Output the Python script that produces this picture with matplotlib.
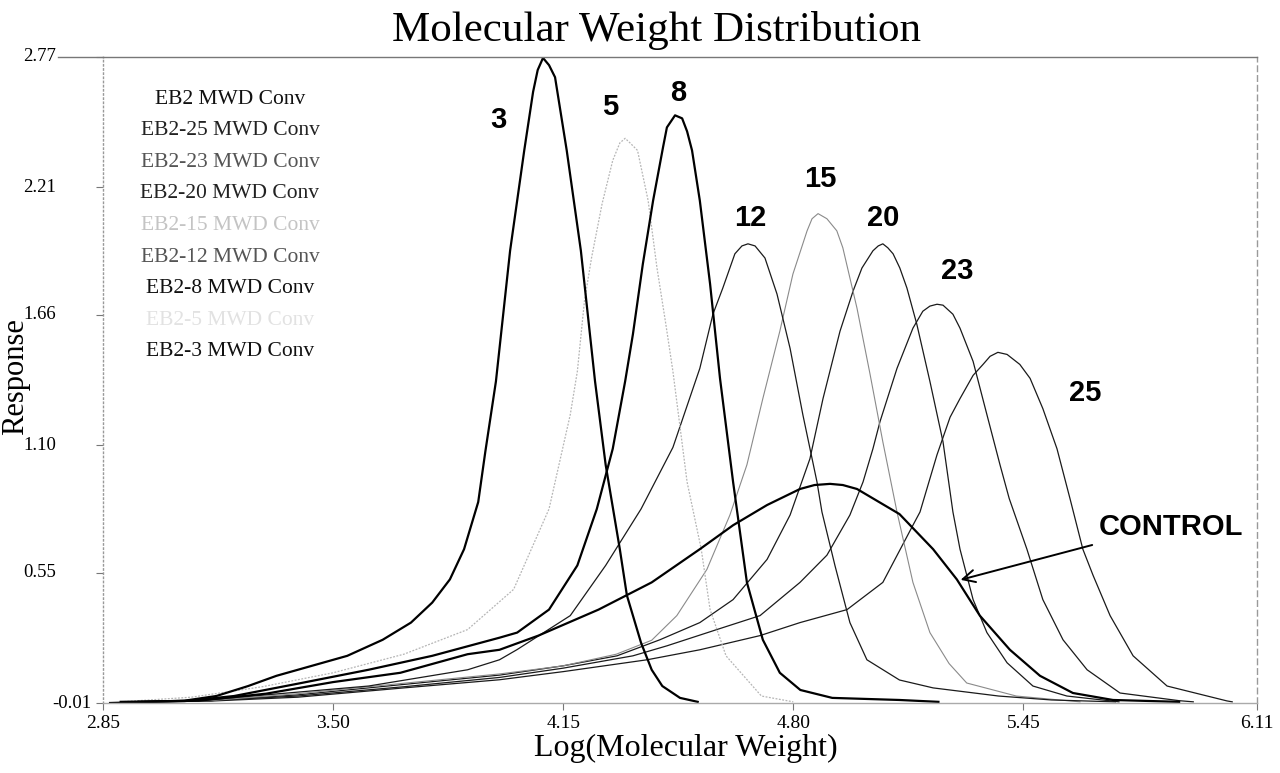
import matplotlib
matplotlib.use('Agg')
import matplotlib.pyplot as plt
from matplotlib.lines import Line2D

# series: log(MW) vs response
c3_x = [2.87, 2.98, 3.08, 3.17, 3.26, 3.34, 3.44, 3.54, 3.64, 3.72, 3.78, 3.83, 3.87, 3.91, 3.93, 3.96,
        4.00, 4.04, 4.065, 4.078, 4.093, 4.11, 4.127, 4.16, 4.20, 4.24, 4.27, 4.31, 4.33, 4.37, 4.40, 4.43, 4.48, 4.53]
c3_y = [-0.01, -0.005, 0.0, 0.02, 0.063, 0.107, 0.15, 0.193, 0.262, 0.336, 0.422, 0.522, 0.652, 0.855, 1.071, 1.374,
        1.936, 2.368, 2.62, 2.714, 2.766, 2.735, 2.683, 2.368, 1.936, 1.374, 1.015, 0.652, 0.453, 0.249, 0.133, 0.063,
        0.012, -0.005]

c5_x = [2.90, 3.10, 3.30, 3.50, 3.70, 3.88, 4.01, 4.11, 4.17, 4.19, 4.21, 4.23, 4.26, 4.29, 4.31, 4.325, 4.339,
        4.36, 4.39, 4.415, 4.44, 4.46, 4.50, 4.54, 4.565, 4.61, 4.71, 4.80]
c5_y = [-0.005, 0.015, 0.06, 0.12, 0.20, 0.306, 0.479, 0.825, 1.231, 1.417, 1.719, 1.905, 2.139, 2.325, 2.40, 2.42,
        2.40, 2.368, 2.152, 1.862, 1.62, 1.417, 0.941, 0.652, 0.392, 0.193, 0.02, -0.005]

c8_x = [2.95, 3.08, 3.22, 3.41, 3.60, 3.78, 3.97, 4.02, 4.11, 4.19, 4.245, 4.29, 4.325, 4.347, 4.375, 4.404,
        4.432, 4.443, 4.466, 4.486, 4.50, 4.514, 4.536, 4.565, 4.593, 4.63, 4.669, 4.714, 4.762, 4.82, 4.91, 5.10, 5.21]
c8_y = [-0.005, -0.002, 0.02, 0.076, 0.133, 0.193, 0.271, 0.293, 0.392, 0.582, 0.825, 1.084, 1.374, 1.577, 1.879, 2.152,
        2.381, 2.467, 2.519, 2.506, 2.45, 2.368, 2.152, 1.793, 1.387, 0.941, 0.509, 0.262, 0.12, 0.046, 0.012, 0.003,
        -0.005]

c12_x = [2.95, 3.12, 3.31, 3.60, 3.88, 3.97, 4.02, 4.17, 4.27, 4.37, 4.46, 4.536, 4.573, 4.601, 4.635, 4.655,
         4.672, 4.692, 4.72, 4.754, 4.791, 4.827, 4.867, 4.881, 4.918, 4.96, 5.008, 5.10, 5.195, 5.38, 5.53, 5.71]
c12_y = [-0.005, 0.0, 0.025, 0.063, 0.133, 0.176, 0.22, 0.366, 0.582, 0.825, 1.09, 1.43, 1.663, 1.776, 1.923, 1.957,
         1.966, 1.957, 1.905, 1.75, 1.516, 1.231, 0.941, 0.812, 0.58, 0.336, 0.176, 0.089, 0.055, 0.02, 0.003, -0.005]

c15_x = [2.92, 3.15, 3.40, 3.70, 3.97, 4.15, 4.30, 4.40, 4.471, 4.556, 4.621, 4.669, 4.714, 4.762, 4.799,
         4.839, 4.853, 4.87, 4.895, 4.923, 4.94, 4.98, 5.017, 5.053, 5.093, 5.138, 5.186, 5.24, 5.29, 5.43, 5.61]
c15_y = [-0.005, 0.0, 0.03, 0.075, 0.115, 0.15, 0.2, 0.26, 0.366, 0.565, 0.799, 1.015, 1.3, 1.59, 1.836,
         2.022, 2.074, 2.096, 2.074, 2.022, 1.949, 1.689, 1.404, 1.114, 0.812, 0.509, 0.293, 0.16, 0.076, 0.02, -0.005]

c20_x = [2.92, 3.15, 3.40, 3.70, 3.97, 4.15, 4.302, 4.423, 4.536, 4.63, 4.726, 4.791, 4.847, 4.884, 4.932, 4.969,
         4.994, 5.025, 5.04, 5.053, 5.067, 5.082, 5.101, 5.121, 5.149, 5.186, 5.223, 5.251, 5.271, 5.308, 5.347,
         5.404, 5.477, 5.573, 5.72]
c20_y = [-0.005, 0.0, 0.025, 0.07, 0.11, 0.15, 0.193, 0.262, 0.336, 0.435, 0.608, 0.799, 1.041, 1.3, 1.59, 1.763,
         1.862, 1.936, 1.957, 1.966, 1.949, 1.923, 1.862, 1.776, 1.62, 1.374, 1.114, 0.812, 0.652, 0.435, 0.293,
         0.163, 0.063, 0.02, -0.005]

c23_x = [2.92, 3.15, 3.40, 3.70, 3.97, 4.15, 4.347, 4.443, 4.584, 4.706, 4.819, 4.895, 4.96, 4.997, 5.025, 5.045,
         5.093, 5.138, 5.166, 5.186, 5.206, 5.223, 5.251, 5.271, 5.308, 5.347, 5.384, 5.41, 5.46, 5.505, 5.562, 5.63,
         5.723, 5.89, 5.93]
c23_y = [-0.005, 0.0, 0.02, 0.06, 0.10, 0.14, 0.193, 0.236, 0.306, 0.366, 0.509, 0.626, 0.799, 0.941, 1.084, 1.201,
         1.43, 1.603, 1.676, 1.698, 1.706, 1.702, 1.663, 1.603, 1.46, 1.231, 1.015, 0.87, 0.652, 0.435, 0.262, 0.133,
         0.033, 0.0, -0.005]

c25_x = [2.92, 3.15, 3.40, 3.70, 3.97, 4.15, 4.387, 4.536, 4.706, 4.819, 4.952, 5.053, 5.138, 5.158, 5.206, 5.243,
         5.271, 5.308, 5.336, 5.356, 5.378, 5.404, 5.44, 5.469, 5.505, 5.545, 5.582, 5.618, 5.647, 5.695, 5.76, 5.856,
         6.025, 6.04]
c25_y = [-0.005, -0.002, 0.015, 0.055, 0.09, 0.125, 0.176, 0.219, 0.28, 0.336, 0.392, 0.509, 0.755, 0.812, 1.058, 1.22,
         1.30, 1.40, 1.447, 1.482, 1.499, 1.49, 1.447, 1.387, 1.257, 1.084, 0.868, 0.652, 0.539, 0.366, 0.193, 0.063,
         -0.001, -0.005]

ctrl_x = [2.90, 3.12, 3.31, 3.50, 3.69, 3.88, 3.97, 4.08, 4.25, 4.40, 4.536, 4.63, 4.726, 4.819, 4.86, 4.904, 4.94,
          4.98, 5.10, 5.195, 5.262, 5.327, 5.412, 5.497, 5.59, 5.703, 5.89]
ctrl_y = [-0.005, 0.0, 0.03, 0.08, 0.12, 0.20, 0.219, 0.28, 0.392, 0.509, 0.652, 0.755, 0.842, 0.911, 0.928, 0.933,
          0.928, 0.911, 0.803, 0.652, 0.522, 0.366, 0.219, 0.107, 0.033, 0.003, -0.005]

x_ticks = [2.85, 3.50, 4.15, 4.80, 5.45, 6.11]
y_ticks = [-0.01, 0.55, 1.10, 1.66, 2.21, 2.77]

legend_labels = ['EB2 MWD Conv', 'EB2-25 MWD Conv', 'EB2-23 MWD Conv', 'EB2-20 MWD Conv', 'EB2-15 MWD Conv',
                 'EB2-12 MWD Conv', 'EB2-8 MWD Conv', 'EB2-5 MWD Conv', 'EB2-3 MWD Conv']
legend_colors = ['#111111', '#222222', '#555555', '#222222', '#c4c4c4', '#555555', '#111111', '#e2e2e2', '#111111']

peak_labels = ['3', '5', '8', '12', '15', '20', '23', '25']
peak_lx = [3.966, 4.282, 4.474, 4.678, 4.875, 5.053, 5.262, 5.624]
peak_ly = [2.498, 2.554, 2.614, 2.078, 2.243, 2.078, 1.849, 1.322]

serif = ['Liberation Serif', 'DejaVu Serif']
sans = ['Liberation Sans', 'DejaVu Sans']

fig = plt.figure(figsize=(12.8, 7.73), dpi=100)
ax = fig.add_axes([103/1280, 1 - 703/773, 1154/1280, 646/773])

ax.plot(c25_x, c25_y, color='#1a1a1a', lw=0.9)
ax.plot(c23_x, c23_y, color='#1a1a1a', lw=0.9)
ax.plot(c20_x, c20_y, color='#1a1a1a', lw=0.9)
ax.plot(c15_x, c15_y, color='#8a8a8a', lw=0.8)
ax.plot(c12_x, c12_y, color='#1a1a1a', lw=0.9)
ax.plot(c5_x, c5_y, color='#b5b5b5', lw=0.9, ls=(0, (1.5, 1.2)))
ax.plot(c8_x, c8_y, color='black', lw=1.6)
ax.plot(c3_x, c3_y, color='black', lw=1.6)
ax.plot(ctrl_x, ctrl_y, color='black', lw=1.6)

ax.set_xlim(2.85, 6.11)
ax.set_ylim(-0.01, 2.77)

ax.set_xticks(x_ticks)
ax.set_xticklabels(['%.2f' % v for v in x_ticks], fontfamily=serif, fontsize=14)
ax.set_yticks(y_ticks)
ax.set_yticklabels([])
ax.tick_params(axis='x', direction='out', length=5, width=0.8, color='#777777', pad=3.5)
ax.tick_params(axis='y', direction='out', length=5, width=0.8, color='#777777')

# y labels sit further left, except the bottom one
for v in y_ticks:
    off = -8.5 if v < 0 else -33.5
    ax.annotate('%.2f' % v, xy=(0, v), xycoords=('axes fraction', 'data'), xytext=(off, 0),
                textcoords='offset points', ha='right', va='center', fontfamily=serif, fontsize=13.5)

ax.spines['top'].set_color('#777777')
ax.spines['right'].set_color('#999999')
ax.spines['right'].set_linestyle((0, (4, 3)))
ax.spines['left'].set_color('#999999')
ax.spines['left'].set_linestyle((0, (1, 2)))
ax.spines['bottom'].set_color('#aaaaaa')
for s in ax.spines.values():
    s.set_linewidth(1.0)

# top border runs out to the 2.77 label
fig.add_artist(Line2D([58/1280, 103/1280], [1 - 57/773, 1 - 57/773], color='#777777', lw=1.0))

fig.text(656/1280, 1 - 30/773, 'Molecular Weight Distribution', ha='center', va='center',
         fontfamily=serif, fontsize=31)
fig.text(686/1280, 1 - 748/773, 'Log(Molecular Weight)', ha='center', va='center',
         fontfamily=serif, fontsize=23)
fig.text(16/1280, 1 - 377/773, 'Response', ha='center', va='center', rotation=90,
         fontfamily=serif, fontsize=22)

for i, lab in enumerate(legend_labels):
    fig.text(230/1280, 1 - (99 + i * 31.6)/773, lab, ha='center', va='center',
             fontfamily=serif, fontsize=15.5, color=legend_colors[i])

for lab, lx, ly in zip(peak_labels, peak_lx, peak_ly):
    ax.text(lx, ly, lab, ha='center', va='center', fontfamily=sans, fontweight='bold', fontsize=21)

ax.text(5.867, 0.747, 'CONTROL', ha='center', va='center', fontfamily=sans, fontweight='bold', fontsize=21)
ax.annotate('', xy=(5.265, 0.517), xytext=(5.652, 0.673),
            arrowprops=dict(arrowstyle='->', color='black', lw=1.4, mutation_scale=22))

fig.savefig('out.png', dpi=100, facecolor='white')
